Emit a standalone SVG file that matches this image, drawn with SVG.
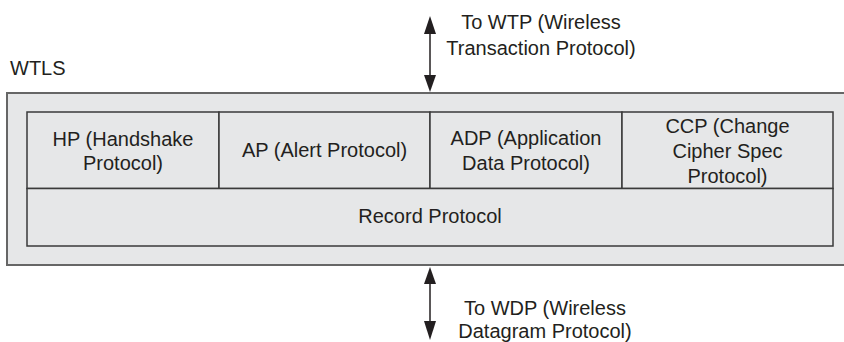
<svg xmlns="http://www.w3.org/2000/svg" width="844" height="342" viewBox="0 0 844 342">
<style>
text{font-family:"Liberation Sans",Arial,sans-serif;font-size:20px;fill:#231f20;text-anchor:middle}
.box{fill:#e6e7e8;stroke:#3a3a3a;stroke-width:1.5}
.outer{fill:#e6e7e8;stroke:#666;stroke-width:2}
.ln{stroke:#231f20;stroke-width:1.5;fill:none}
.ah{fill:#231f20}
</style>
<g id="wtls">
<rect class="outer" x="7" y="93" width="845" height="172"/>
<text x="10" y="75" style="text-anchor:start">WTLS</text>
</g>
<g id="hp">
<rect class="box" x="27" y="112" width="192" height="76.5"/>
<text x="123" y="146">HP (Handshake</text>
<text x="123" y="170">Protocol)</text>
</g>
<g id="ap">
<rect class="box" x="219" y="112" width="211" height="76.5"/>
<text x="324.5" y="157">AP (Alert Protocol)</text>
</g>
<g id="adp">
<rect class="box" x="430" y="112" width="192" height="76.5"/>
<text x="526" y="145">ADP (Application</text>
<text x="526" y="170">Data Protocol)</text>
</g>
<g id="ccp">
<rect class="box" x="622" y="112" width="211" height="76.5"/>
<text x="727.5" y="133">CCP (Change</text>
<text x="727.5" y="158">Cipher Spec</text>
<text x="727.5" y="183">Protocol)</text>
</g>
<g id="record">
<rect class="box" x="27" y="188.5" width="806" height="57.5"/>
<text x="430" y="223">Record Protocol</text>
</g>
<g id="wtp">
<text x="541" y="29">To WTP (Wireless</text>
<text x="541" y="55">Transaction Protocol)</text>
</g>
<g id="wdp">
<text x="545" y="315">To WDP (Wireless</text>
<text x="545" y="338">Datagram Protocol)</text>
</g>
<g id="connectors">
<line class="ln" x1="430" y1="30" x2="430" y2="78"/>
<polygon class="ah" points="430,16 424,34 436,34"/>
<polygon class="ah" points="430,92 424,75 436,75"/>
<line class="ln" x1="430" y1="282" x2="430" y2="324"/>
<polygon class="ah" points="430,267 424,284 436,284"/>
<polygon class="ah" points="430,340 424,321 436,321"/>
</g>
</svg>
